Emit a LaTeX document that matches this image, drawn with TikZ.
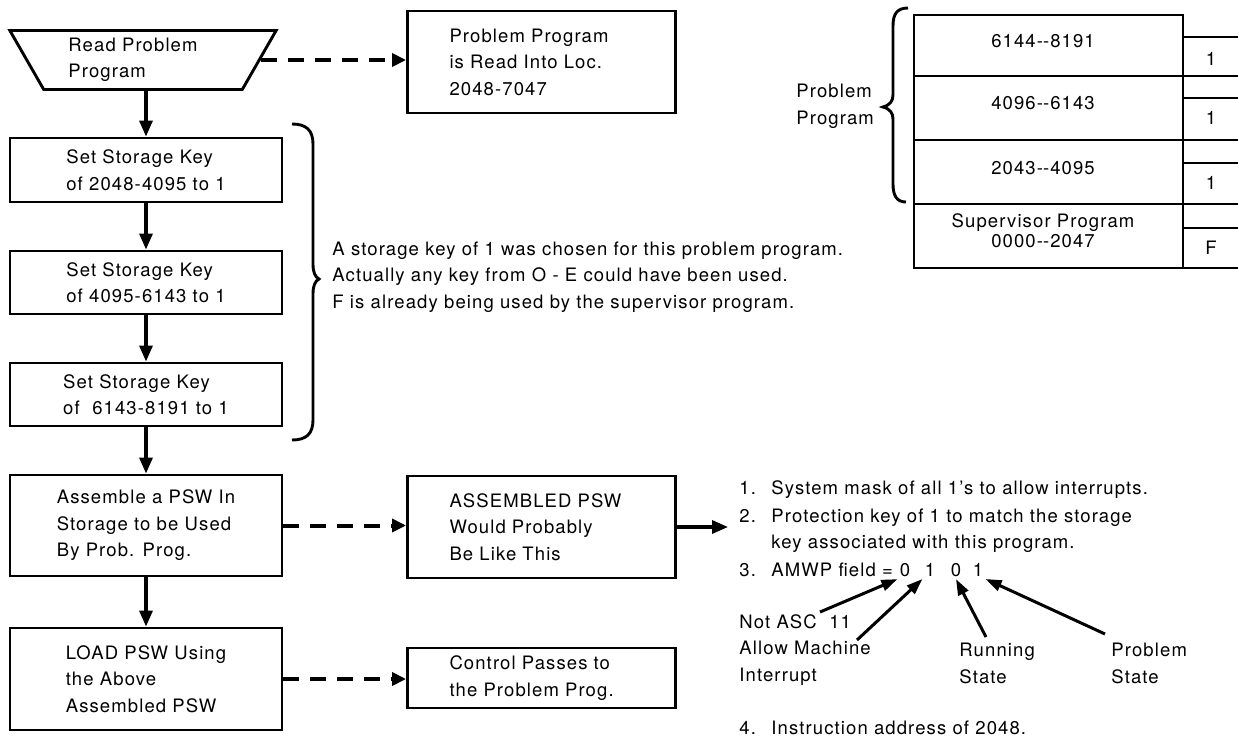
\documentclass[tikz,border=0pt]{standalone}
\usepackage{fontspec}
\setmainfont{TeX Gyre Heros}[LetterSpace=6]
\usetikzlibrary{arrows.meta,shapes.geometric}
\newcommand{\pswitem}[1]{\makebox[32pt][l]{#1}}
\newcommand{\dblhyph}{-\kern0pt-}

\begin{document}
\begin{tikzpicture}[x=1pt,y=-1pt,
        font=\fontsize{18.5}{26.5}\selectfont,
        line width=2.9pt,
        box/.style={draw,align=left,inner sep=0pt,minimum width=272pt},
        side/.style={draw,align=left,inner ysep=0pt,inner xsep=42pt,text width=184pt},
        note/.style={anchor=west,align=left,inner sep=0pt},
        flow/.style={line width=3.3pt,-{Triangle[length=16pt,width=13pt]}},
        link/.style={line width=4pt,dash pattern=on 16pt off 11pt,-{Triangle[length=14pt,width=13pt]}},
        pointer/.style={line width=3pt,-{Triangle[length=16pt,width=11pt]}}]
        \useasboundingbox (0,0) rectangle (1238,739);

        % main flow
        \node[draw,trapezium,trapezium angle=60,shape border rotate=180,trapezium stretches=true,
              minimum width=267pt,minimum height=59pt,align=left,inner sep=0pt] (read) at (143,60) {Read Problem\hspace*{20pt}\\Program};
        \node[box,minimum height=64pt] (key1) at (146,170) {Set Storage Key\\of 2048-4095 to 1};
        \node[box,minimum height=63pt] (key2) at (146,282.5) {Set Storage Key\\of 4095-6143 to 1};
        \node[box,minimum height=63pt] (key3) at (146,394.5) {Set Storage Key\\of\ \ 6143-8191 to 1};
        \node[box,minimum height=101pt] (asm) at (146,525.5) {Assemble a PSW In\\Storage to be Used\\By Prob. Prog.};
        \node[box,minimum height=102pt] (load) at (146,679) {LOAD PSW Using\\the Above\\Assembled PSW};

        \draw[flow] (read.south -| key1.north) -- (key1.north);
        \draw[flow] (key1) -- (key2);
        \draw[flow] (key2) -- (key3);
        \draw[flow] (key3) -- (asm);
        \draw[flow] (asm) -- (load);

        % side boxes
        \node[side,minimum height=102pt] (readinto) at (541.5,62) {Problem Program\\is Read Into Loc.\\2048-7047};
        \node[side,minimum height=102pt] (psw) at (541.5,527) {ASSEMBLED PSW\\Would Probably\\Be Like This};
        \node[side,minimum height=60pt] (ctrl) at (541.5,678) {Control Passes to\\the Problem Prog.};

        \draw[link] (read.east) -- (read.east -| readinto.west);
        \draw[link] (asm.east) -- (asm.east -| psw.west);
        \draw[link] (load.east) -- (load.east -| ctrl.west);

        % brace over the three key settings
        \draw (292,124) .. controls (306,124) and (313,130) .. (313,144) -- (313,264)
              .. controls (313,272) and (315,277) .. (319,279) .. controls (315,281) and (313,286) .. (313,294)
              -- (313,420) .. controls (313,434) and (306,440) .. (292,440);
        \node[note] (keynote) at (331,277) {A storage key of 1 was chosen for this problem program.\\Actually any key from O - E could have been used.\\F is already being used by the supervisor program.};

        % storage map
        \draw (914,15) rectangle (1183,268);
        \foreach \y in {76,140,204} \draw (914,\y) -- (1238,\y);
        \foreach \y in {37,98,163,228} \draw (1183,\y) -- (1238,\y);
        \draw (1183,268) -- (1238,268);
        \node (blk3) at (1043,41.5) {6144\dblhyph8191};
        \node (blk2) at (1043,103) {4096\dblhyph6143};
        \node (blk1) at (1043,168) {2043\dblhyph4095};
        \node[align=center,font=\fontsize{18.5}{20}\selectfont] (blk0) at (1043,231) {Supervisor Program\\0000\dblhyph2047};
        \node (skey3) at (1211,59) {1};
        \node (skey2) at (1211,118) {1};
        \node (skey1) at (1211,183) {1};
        \node (skey0) at (1211,248) {F};
        \draw (908,8) .. controls (897,8) and (893,14) .. (893,26) -- (893,95)
              .. controls (893,101) and (890,105) .. (883,107) .. controls (890,109) and (893,113) .. (893,119)
              -- (893,184) .. controls (893,196) and (897,202) .. (906,202);
        \node[note] (probprog) at (795,106.5) {Problem\\Program};

        % contents of the assembled PSW
        \node[note] (item1) at (738,490) {\pswitem{1.}System mask of all 1’s to allow interrupts.};
        \node[note] (item2) at (738,530.5) {\pswitem{2.}Protection key of 1 to match the storage\\\pswitem{}key associated with this program.};
        \node[note] (item3) at (738,570) {\pswitem{3.}AMWP field =};
        \node[inner sep=1pt] (d1) at (905,570) {0};
        \node[inner sep=1pt] (d2) at (930,570) {1};
        \node[inner sep=1pt] (d3) at (956,570) {0};
        \node[inner sep=1pt] (d4) at (978,570) {1};
        \node[note] (notasc) at (738,650) {Not ASC\ \ 11\\Allow Machine\\Interrupt};
        \node[note] (running) at (958,663.5) {Running\\State};
        \node[note] (probstate) at (1110,663.5) {Problem\\State};
        \node[note] (item4) at (738,728) {\pswitem{4.}Instruction address of 2048.};

        \draw[flow] (psw.east) -- (psw.east -| item2.west) [shorten >=10pt];

        \coordinate (t1) at (820,612);
        \coordinate (t2) at (857,640);
        \coordinate (t3) at (986,637);
        \coordinate (t4) at (1105,634);
        \draw[pointer] (t1) -- (d1.south west);
        \draw[pointer] (t2) -- (d2.south west);
        \draw[pointer] (t3) -- (d3.south);
        \draw[pointer] (t4) -- (d4.south east);
\end{tikzpicture}
\end{document}
